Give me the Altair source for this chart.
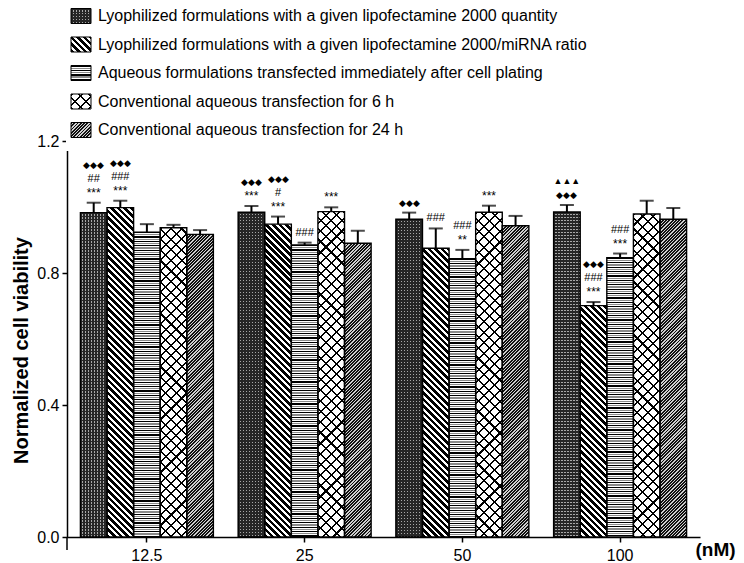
import math
import altair as alt
import pandas as pd

# ---------------- data ----------------
concs = ["12.5", "25", "50", "100"]
series = [
    "Lyophilized formulations with a given lipofectamine 2000 quantity",
    "Lyophilized formulations with a given lipofectamine 2000/miRNA ratio",
    "Aqueous formulations transfected immediately after cell plating",
    "Conventional aqueous transfection for 6 h",
    "Conventional aqueous transfection for 24 h",
]
means = [
    [0.983, 0.984, 0.963, 0.985],
    [0.998, 0.948, 0.875, 0.701],
    [0.924, 0.885, 0.843, 0.846],
    [0.937, 0.986, 0.984, 0.979],
    [0.917, 0.890, 0.943, 0.963],
]
errs = [
    [0.030, 0.019, 0.020, 0.021],
    [0.021, 0.023, 0.060, 0.011],
    [0.024, 0.007, 0.027, 0.013],
    [0.009, 0.013, 0.020, 0.040],
    [0.013, 0.038, 0.030, 0.034],
]
annot_series = [0, 1, 0, 1, 2, 3, 0, 1, 2, 3, 0, 1, 2]
annot_conc = [0, 0, 1, 1, 1, 1, 2, 2, 2, 2, 3, 3, 3]
annot_lines = ["***|##|◆◆◆", "***|###|◆◆◆", "***|◆◆◆", "***|#|◆◆◆", "###", "***",
               "◆◆◆", "###", "**|###", "***", "◆◆◆|▲▲▲", "***|###|◆◆◆", "***|###"]
y_ticks = [0.0, 0.4, 0.8, 1.2]

# ---------------- layout constants ----------------
W, H = 633, 396
YMAX = 1.2
P_IN, P_OUT = 0.157, 0.085

rows = []
for i, s in enumerate(series):
    for j, c in enumerate(concs):
        rows.append(dict(series=s, conc=c, sidx=i, cidx=j, value=means[i][j],
                         upper=means[i][j] + errs[i][j]))
df = pd.DataFrame(rows)

glyph_size = {"*": 12, "#": 11, "◆": 9, "▲": 9}
arows = []
for si, ci, txt in zip(annot_series, annot_conc, annot_lines):
    for k, t in enumerate(txt.split("|")):
        arows.append(dict(series=series[si], conc=concs[ci], line=k, text=t,
                          upper=means[si][ci] + errs[si][ci], fs=glyph_size[t[0]]))
adf = pd.DataFrame(arows)

leg_df = pd.DataFrame({"series": series, "sidx": list(range(len(series)))})

# ---------------- pattern gradients ----------------
T = "rgba(0,0,0,0)"


def grad(kind, w, h, segs):
    if kind == "h":
        p1, p2, L = (0, 0), (0, 1), h
    elif kind == "v":
        p1, p2, L = (0, 0), (1, 0), w
    elif kind == "d1":  # "\" lines
        s = (w + h) / (w * w + h * h)
        p1, p2, L = (0, 1), (s * w, 1 - s * h), (w + h) / math.sqrt(2)
    else:  # "/" lines
        s = (w + h) / (w * w + h * h)
        p1, p2, L = (0, 0), (s * w, s * h), (w + h) / math.sqrt(2)
    stops = []
    pos = 0.0
    while pos < L:
        for color, t in segs:
            a = pos / L
            if a >= 1:
                break
            b = min((pos + t) / L, 1.0)
            stops.append({"offset": round(a, 5), "color": color})
            stops.append({"offset": round(b, 5), "color": color})
            pos += t
    return {"gradient": "linear", "x1": p1[0], "y1": p1[1], "x2": p2[0], "y2": p2[1],
            "stops": stops}


def pattern(i, w, h):
    if i == 0:
        return [grad("h", w, h, [("#262626", 1.8), ("#a8a8a8", 1.2)]),
                grad("v", w, h, [("#262626", 1.8), (T, 1.2)])]
    if i == 1:
        return [grad("d1", w, h, [("#000000", 2.5), ("#ffffff", 2.1)])]
    if i == 2:
        return [grad("h", w, h, [("#000000", 1.2), ("#ffffff", 1.0),
                                 ("#8a8a8a", 1.2), ("#ffffff", 1.0)])]
    if i == 3:
        return [grad("d1", w, h, [("#000000", 1.5), ("#ffffff", 6.0)]),
                grad("d2", w, h, [("#000000", 1.5), (T, 6.0)])]
    return [grad("d2", w, h, [("#111111", 1.3), ("#d0d0d0", 1.0)])]


# ---------------- encodings ----------------
X = alt.X("conc:N", sort=concs,
          scale=alt.Scale(domain=concs, paddingInner=P_IN, paddingOuter=P_OUT),
          axis=alt.Axis(title="(nM)", titleX=628, titleY=12, titleAlign="left",
                        titleBaseline="middle", titleFontSize=19, titleFontWeight="bold",
                        labelFontSize=16, labelAngle=0, labelPadding=5, tickSize=5,
                        tickWidth=1.5, domainWidth=1.5, domainColor="black",
                        tickColor="black", labelColor="black", titleColor="black",
                        grid=False))
XO = alt.XOffset("series:N", sort=series,
                 scale=alt.Scale(domain=series, paddingInner=0, paddingOuter=0))
Y = alt.Y("value:Q", scale=alt.Scale(domain=[0, YMAX], nice=False),
          axis=alt.Axis(title="Normalized cell viability", values=y_ticks, format=".1f",
                        labelFontSize=16, labelPadding=3, tickSize=5, tickWidth=1.5,
                        domainWidth=1.5, domainColor="black", tickColor="black",
                        labelColor="black", titleColor="black", titleFontSize=20,
                        titleFontWeight="bold", titleX=-46, titleY=209,
                        titleAlign="center", titleBaseline="middle", titleAngle=270,
                        grid=False))

layers = []
bw = W * (1 - P_IN) / (4 - P_IN + 2 * P_OUT) / 5
for i in range(len(series)):
    for j in range(len(concs)):
        hpx = means[i][j] / YMAX * H
        for fill in pattern(i, bw, hpx):
            layers.append(
                alt.Chart(df)
                .transform_filter(f"datum.sidx == {i} && datum.cidx == {j}")
                .mark_bar(fill=fill, strokeWidth=0)
                .encode(x=X, xOffset=XO, y=Y)
            )

layers.append(alt.Chart(df).mark_bar(fillOpacity=0, stroke="black", strokeWidth=1.4)
              .encode(x=X, xOffset=XO, y=Y))
layers.append(alt.Chart(df).mark_rule(color="black", strokeWidth=2)
              .encode(x=X, xOffset=XO, y=Y, y2="upper:Q"))
layers.append(alt.Chart(df).mark_tick(color="black", thickness=2, size=14)
              .encode(x=X, xOffset=XO, y=alt.Y("upper:Q")))

for k in range(3):
    layers.append(
        alt.Chart(adf).transform_filter(f"datum.line == {k}")
        .mark_text(dy=-(10 + 14 * k), baseline="middle", align="center", color="black",
                   font="Liberation Sans")
        .encode(x=X, xOffset=XO, y=alt.Y("upper:Q"), text="text:N",
                size=alt.Size("fs:Q", scale=None, legend=None))
    )

# axis extension below zero and white legend mask over axis top
layers.append(alt.Chart(leg_df).transform_filter("datum.sidx == 0")
              .mark_rule(color="black", strokeWidth=1.5)
              .encode(x=alt.value(0), y=alt.value(H), y2=alt.value(H + 13)))
layers.append(alt.Chart(leg_df).transform_filter("datum.sidx == 0")
              .mark_rect(fill="white")
              .encode(x=alt.value(-1), x2=alt.value(2), y=alt.value(-2), y2=alt.value(10)))

# legend
row_y = [-125, -96.5, -68, -39.5, -11]
SW, SH = 20, 15
for i in range(len(series)):
    yc = row_y[i]
    for fill in pattern(i, SW, SH):
        layers.append(
            alt.Chart(leg_df).transform_filter(f"datum.sidx == {i}")
            .mark_rect(fill=fill, strokeWidth=0)
            .encode(x=alt.value(4), x2=alt.value(4 + SW),
                    y=alt.value(yc - SH / 2), y2=alt.value(yc + SH / 2))
        )
    layers.append(
        alt.Chart(leg_df).transform_filter(f"datum.sidx == {i}")
        .mark_rect(fillOpacity=0, stroke="black", strokeWidth=1)
        .encode(x=alt.value(4), x2=alt.value(4 + SW),
                y=alt.value(yc - SH / 2), y2=alt.value(yc + SH / 2))
    )
    layers.append(
        alt.Chart(leg_df).transform_filter(f"datum.sidx == {i}")
        .mark_text(align="left", baseline="middle", fontSize=16, color="black",
                   font="Liberation Sans")
        .encode(x=alt.value(31), y=alt.value(yc), text="series:N")
    )

chart = (
    alt.layer(*layers)
    .properties(width=W, height=H,
                padding={"left": 59, "top": 133, "right": 36, "bottom": 26},
                autosize=alt.AutoSizeParams(type="none"))
    .configure(font="Liberation Sans")
    .configure_view(stroke=None)
)

chart.save("out.html", embed_options={"renderer": "svg", "actions": False})
